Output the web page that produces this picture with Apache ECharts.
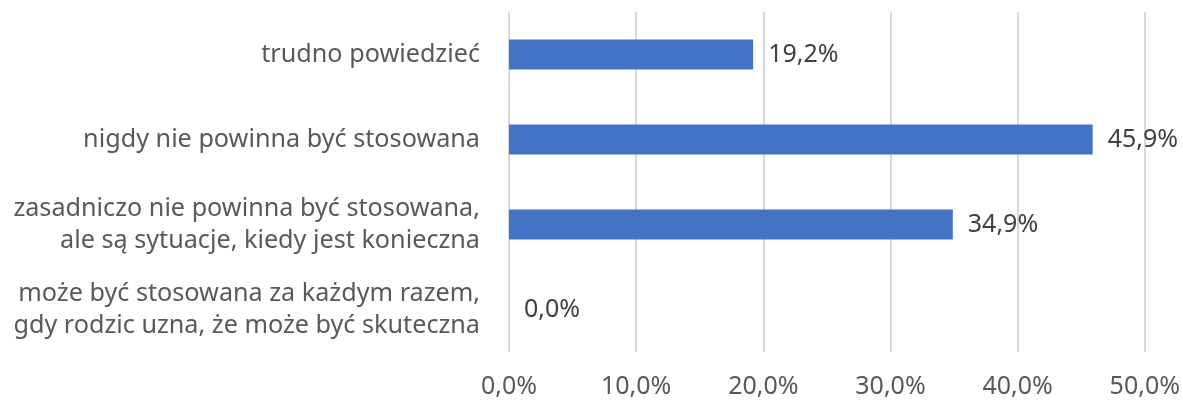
<!DOCTYPE html>
<html>
<head>
<meta charset="utf-8">
<script src="https://cdn.jsdelivr.net/npm/echarts@6/dist/echarts.min.js"></script>
<style>
  html, body { margin: 0; padding: 0; background: #fff; }
  #chart { width: 1183px; height: 405px; }
</style>
</head>
<body>
<div id="chart"></div>
<script>
// kategorie od dołu do góry
const categories = [
  'może być stosowana za każdym razem,\ngdy rodzic uzna, że może być skuteczna',
  'zasadniczo nie powinna być stosowana,\nale są sytuacje, kiedy jest konieczna',
  'nigdy nie powinna być stosowana',
  'trudno powiedzieć'
]
const values = [0.0, 34.9, 45.9, 19.2]
const tickMax = 50
const tickStep = 10

const fmt = v => v.toFixed(1).replace('.', ',') + '%'

const chart = echarts.init(document.getElementById('chart'))
chart.setOption({
  animation: false,
  textStyle: { fontFamily: 'Noto Sans' },
  grid: { left: 509, right: 38, top: 12, bottom: 53 },
  xAxis: {
    type: 'value',
    min: 0,
    max: tickMax,
    interval: tickStep,
    axisLine: { show: false },
    axisTick: { show: false },
    splitLine: { lineStyle: { color: '#d9d9d9', width: 2 } },
    axisLabel: {
      formatter: v => fmt(v),
      color: '#595959',
      fontSize: 25,
      margin: 22
    }
  },
  yAxis: {
    type: 'category',
    data: categories,
    axisLine: { show: false },
    axisTick: { show: false },
    axisLabel: {
      color: '#595959',
      fontSize: 25.2,
      lineHeight: 32,
      margin: 29,
      align: 'right'
    }
  },
  series: [{
    type: 'bar',
    data: values,
    barWidth: 30,
    itemStyle: { color: '#4472C4' },
    label: {
      show: true,
      position: 'right',
      distance: 15,
      color: '#404040',
      fontSize: 25,
      formatter: p => fmt(p.value)
    }
  }]
})
</script>
</body>
</html>
